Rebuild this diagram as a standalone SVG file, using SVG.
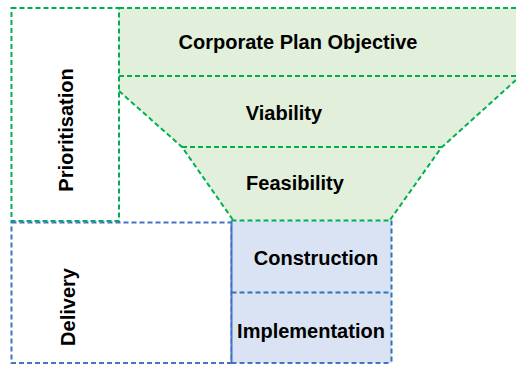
<svg xmlns="http://www.w3.org/2000/svg" width="516" height="365" viewBox="0 0 516 365">
<style>
.g{fill:none;stroke:#00b050;stroke-width:2;stroke-dasharray:5 3}
.b{fill:none;stroke:#4472c4;stroke-width:2;stroke-dasharray:5 3}
.b2{fill:none;stroke:#2e75b6;stroke-width:2;stroke-dasharray:5 3}
text{font-family:"Liberation Sans",Arial,sans-serif;font-weight:bold;font-size:20px;fill:#000;text-anchor:middle}
</style>
<rect width="516" height="365" fill="#fff"/>
<g id="funnel">
<polygon points="119,8 516,8 516,80 441,148 390,220 233,220 182,147 119,91" fill="#e2efda"/>
</g>
<g id="connectors">
<line class="g" x1="119" y1="8" x2="516" y2="8"/>
<line class="g" x1="119" y1="76" x2="516" y2="76"/>
<line class="g" x1="182" y1="147" x2="441" y2="147"/>
<polyline class="g" points="119,91 182,147 233,220"/>
<polyline class="g" points="516,80 441,148 390,220"/>
</g>
<g id="corporate"><text x="298" y="49">Corporate Plan Objective</text></g>
<g id="viability"><text x="284" y="120">Viability</text></g>
<g id="feasibility"><text x="295" y="190">Feasibility</text></g>
<g id="prioritisation">
<rect class="g" x="11.5" y="8" width="107.5" height="213"/>
<text transform="translate(72.5,130) rotate(-90)">Prioritisation</text>
</g>
<g id="delivery">
<rect class="b" x="11.5" y="222.5" width="220" height="140.5"/>
<text transform="translate(75,307) rotate(-90)">Delivery</text>
</g>
<g id="construction">
<rect x="231.5" y="220.5" width="160" height="142.5" fill="#dae3f3"/>
<line x1="231.5" y1="220.5" x2="231.5" y2="363" stroke="#4472c4" stroke-width="2"/>
<line class="g" x1="231.5" y1="220.5" x2="391.5" y2="220.5"/>
<line class="b2" x1="391.5" y1="220.5" x2="391.5" y2="363"/>
<line class="b" x1="231.5" y1="363" x2="391.5" y2="363"/>
<line class="b2" x1="231.5" y1="292.5" x2="391.5" y2="292.5"/>
<text x="316" y="265">Construction</text>
</g>
<g id="implementation"><text x="311" y="338">Implementation</text></g>
</svg>
